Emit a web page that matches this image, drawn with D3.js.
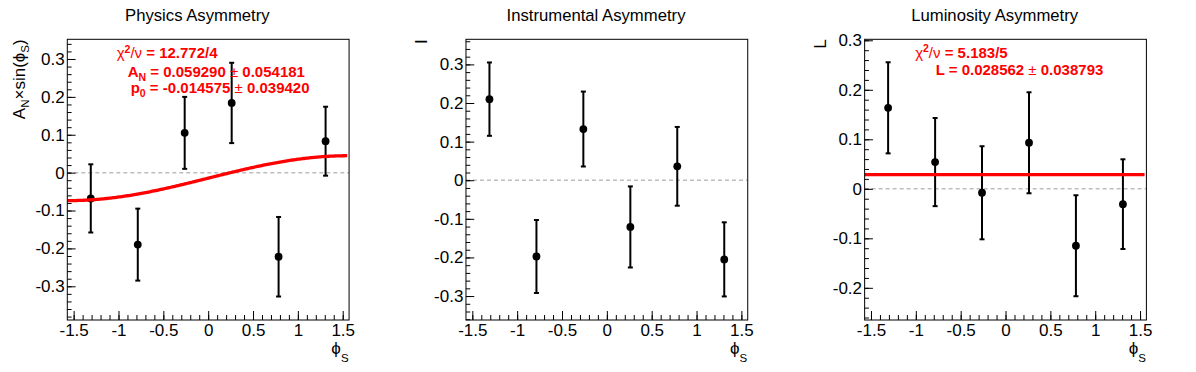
<!DOCTYPE html>
<html><head><meta charset="utf-8">
<script src="https://cdn.jsdelivr.net/npm/d3@7"></script>
<style>
body{margin:0;background:#fff}
svg{display:block}
text{font-family:"Liberation Sans",Arial,Helvetica,sans-serif}
</style>
</head><body>
<svg id="c" width="1196" height="372"></svg>
<script>
// ---------------- data ----------------
const phiS = [-1.309, -0.785, -0.262, 0.262, 0.785, 1.309];
const physVal = [-0.068, -0.190, 0.105, 0.184, -0.222, 0.083];
const physErr = [0.090, 0.095, 0.095, 0.106, 0.105, 0.091];
const instVal = [0.210, -0.1975, 0.1326, -0.121, 0.036, -0.205];
const instErr = [0.095, 0.0945, 0.097, 0.105, 0.102, 0.096];
const lumiVal = [0.1636, 0.054, -0.008, 0.093, -0.115, -0.031];
const lumiErr = [0.092, 0.089, 0.094, 0.102, 0.102, 0.0906];

const xTicks = [-1.5, -1, -0.5, 0, 0.5, 1, 1.5];
const physYTicks = [-0.3, -0.2, -0.1, 0, 0.1, 0.2, 0.3];
const instYTicks = [-0.3, -0.2, -0.1, 0, 0.1, 0.2, 0.3];
const lumiYTicks = [-0.2, -0.1, 0, 0.1, 0.2, 0.3];

const xRange = [-Math.PI / 2, Math.PI / 2];
const physYRange = [-0.389, 0.352];
const instYRange = [-0.362, 0.365];
const lumiYRange = [-0.265, 0.302];

const titles = ["Physics Asymmetry", "Instrumental Asymmetry", "Luminosity Asymmetry"];

// fit results (as printed on the chart)
const physChi2 = "12.772/4";
const physFitPar = [0.059290, -0.014575];     // A_N, p0
const physFitErr = ["0.054181", "0.039420"];
const physFitTxt = ["0.059290", "-0.014575"];
const lumiChi2 = "5.183/5";
const lumiFitPar = [0.028562];                // L
const lumiFitErr = ["0.038793"];
const lumiFitTxt = ["0.028562"];
const fitRange = [-Math.PI / 2, 1.55];

// ---------------- layout ----------------
const svg = d3.select("#c");
const padW = 1196 / 3;
const m = {l: 67.3, r: 49.6, t: 39.3, b: 52};
const fw = padW - m.l - m.r, fh = 372 - m.t - m.b;
const red = "#ff0000";
const PHI = "\u03D5";

const panels = [
  {vals: physVal, errs: physErr, yr: physYRange, yt: physYTicks, ytitleX: 25},
  {vals: instVal, errs: instErr, yr: instYRange, yt: instYTicks, ytitleX: 28.3},
  {vals: lumiVal, errs: lumiErr, yr: lumiYRange, yt: lumiYTicks, ytitleX: 28.7}
];

const fmt = d => d === 0 ? "0" : String(d);

panels.forEach((p, i) => {
  const px = i * padW;
  const g = svg.append("g").attr("transform", `translate(${px},0)`);
  const x = d3.scaleLinear().domain(xRange).range([m.l, m.l + fw]);
  const y = d3.scaleLinear().domain(p.yr).range([m.t + fh, m.t]);

  // title
  g.append("text").attr("x", padW / 2 - 2).attr("y", 20.5)
    .attr("text-anchor", "middle").attr("font-size", 16.7).text(titles[i]);

  const clipId = "clip" + i;
  g.append("clipPath").attr("id", clipId).append("rect")
    .attr("x", m.l).attr("y", m.t).attr("width", fw).attr("height", fh);

  // zero line
  g.append("line").attr("x1", m.l).attr("x2", m.l + fw)
    .attr("y1", y(0)).attr("y2", y(0))
    .attr("stroke", "#bdbdbd").attr("stroke-width", 1.5).attr("stroke-dasharray", "4,3");

  // error bars
  const cap = 2.5;
  const eb = g.append("g").attr("stroke", "#000").attr("stroke-width", 2);
  phiS.forEach((xv, k) => {
    const v = p.vals[k], e = p.errs[k];
    eb.append("line").attr("x1", x(xv)).attr("x2", x(xv)).attr("y1", y(v - e)).attr("y2", y(v + e));
    eb.append("line").attr("x1", x(xv) - cap).attr("x2", x(xv) + cap).attr("y1", y(v + e)).attr("y2", y(v + e));
    eb.append("line").attr("x1", x(xv) - cap).attr("x2", x(xv) + cap).attr("y1", y(v - e)).attr("y2", y(v - e));
  });
  g.append("g").selectAll("circle").data(phiS).join("circle")
    .attr("cx", d => x(d)).attr("cy", (d, k) => y(p.vals[k])).attr("r", 3.9).attr("fill", "#000");

  // fit
  if (i === 0) {
    const xs = d3.range(0, 201).map(k => fitRange[0] + (fitRange[1] - fitRange[0]) * k / 200);
    const line = d3.line().x(d => x(d)).y(d => y(physFitPar[1] + physFitPar[0] * Math.sin(d)));
    g.append("path").attr("d", line(xs)).attr("fill", "none").attr("stroke", red)
      .attr("stroke-width", 3.3).attr("clip-path", `url(#${clipId})`);
  }
  if (i === 2) {
    g.append("line").attr("x1", x(fitRange[0])).attr("x2", x(fitRange[1]))
      .attr("y1", y(lumiFitPar[0])).attr("y2", y(lumiFitPar[0]))
      .attr("stroke", red).attr("stroke-width", 3.3).attr("clip-path", `url(#${clipId})`);
  }

  // frame
  g.append("rect").attr("x", m.l).attr("y", m.t).attr("width", fw).attr("height", fh)
    .attr("fill", "none").attr("stroke", "#000").attr("stroke-width", 1);

  // axes
  const yMinor = d3.range(-20, 21).map(k => k * 0.02).filter(v => v >= p.yr[0] && v <= p.yr[1]);
  const xMinor = d3.range(-16, 17).map(k => k * 0.1).filter(v => v >= xRange[0] && v <= xRange[1]);

  const ya = g.append("g").attr("transform", `translate(${m.l},0)`)
    .call(d3.axisLeft(y).tickValues(p.yt).tickFormat(fmt).tickSize(-8.3).tickPadding(2.6));
  ya.select(".domain").remove();
  ya.selectAll("text").attr("font-size", 17).attr("font-family", '"Liberation Sans",Arial,sans-serif').attr("fill", "#000");
  const yam = g.append("g").attr("transform", `translate(${m.l},0)`)
    .call(d3.axisLeft(y).tickValues(yMinor).tickFormat("").tickSize(-4.3));
  yam.select(".domain").remove();

  const xa = g.append("g").attr("transform", `translate(0,${m.t + fh})`)
    .call(d3.axisBottom(x).tickValues(xTicks).tickFormat(fmt).tickSize(-9).tickPadding(3.6));
  xa.select(".domain").remove();
  xa.selectAll("text").attr("font-size", 17).attr("font-family", '"Liberation Sans",Arial,sans-serif').attr("fill", "#000");
  const xam = g.append("g").attr("transform", `translate(0,${m.t + fh})`)
    .call(d3.axisBottom(x).tickValues(xMinor).tickFormat("").tickSize(-5));
  xam.select(".domain").remove();

  // x title
  const xt = g.append("text").attr("x", m.l + fw - 0.5).attr("y", 354)
    .attr("text-anchor", "end").attr("font-size", 17);
  xt.append("tspan").text(PHI);
  xt.append("tspan").attr("font-size", 11.5).attr("dy", 8).text("S");

  // y title
  const yt = g.append("text").attr("transform", `translate(${p.ytitleX},${m.t}) rotate(-90)`)
    .attr("text-anchor", "end").attr("font-size", 17);
  if (i === 0) {
    yt.append("tspan").text("A");
    yt.append("tspan").attr("font-size", 11.5).attr("dy", 4).text("N");
    yt.append("tspan").attr("dy", -4).text("×sin(" + PHI);
    yt.append("tspan").attr("font-size", 11.5).attr("dy", 4).text("S");
    yt.append("tspan").attr("dy", -4).text(")");
  } else if (i === 1) {
    yt.text("I");
  } else {
    yt.text("L");
  }

  // fit text
  const chiLine = (xx, yy, val) => {
    const t = g.append("text").attr("x", xx).attr("y", yy).attr("fill", red).attr("font-size", 15);
    t.append("tspan").text("χ");
    t.append("tspan").attr("font-size", 10.5).attr("font-weight", "bold").attr("dy", -5.5).text("2");
    t.append("tspan").attr("dy", 5.5).text("/ν");
    t.append("tspan").attr("font-weight", "bold").text(" = " + val);
  };
  const parLine = (xx, yy, name, sub, val, err) => {
    const t = g.append("text").attr("x", xx).attr("y", yy).attr("fill", red).attr("font-size", 15).attr("font-weight", "bold");
    t.append("tspan").text(name);
    if (sub) {
      t.append("tspan").attr("font-size", 10.5).attr("dy", 4).text(sub);
      t.append("tspan").attr("dy", -4).text(" = " + val + " ");
    } else {
      t.append("tspan").text(" = " + val + " ");
    }
    t.append("tspan").attr("font-weight", "normal").text("±");
    t.append("tspan").text(" " + err);
  };
  if (i === 0) {
    chiLine(m.l + 49.4, 58.3, physChi2);
    parLine(m.l + 60.4, 76.5, "A", "N", physFitTxt[0], physFitErr[0]);
    parLine(m.l + 63.4, 93.3, "p", "0", physFitTxt[1], physFitErr[1]);
  }
  if (i === 2) {
    chiLine(m.l + 50.5, 57.5, lumiChi2);
    parLine(m.l + 71, 75, "L", null, lumiFitTxt[0], lumiFitErr[0]);
  }
});
</script>
</body></html>
